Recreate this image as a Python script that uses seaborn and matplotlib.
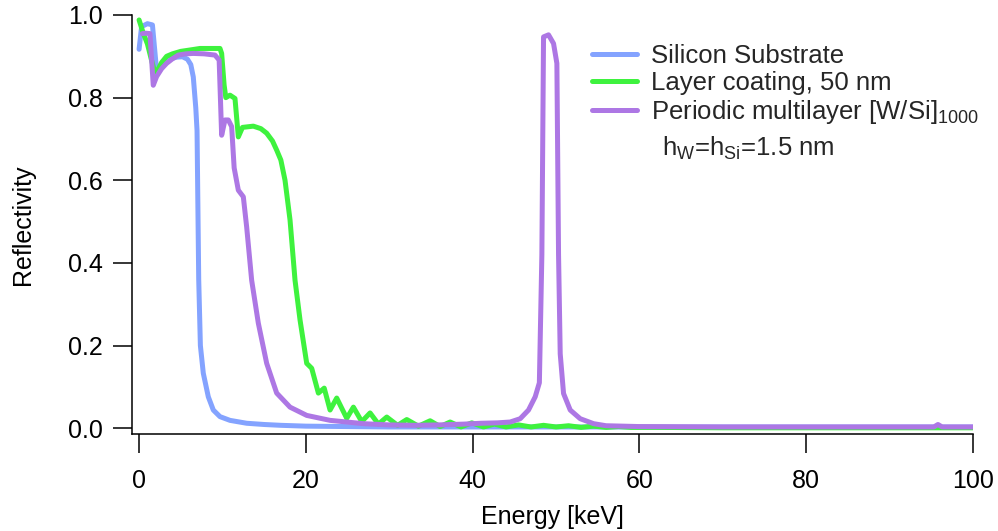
import matplotlib
matplotlib.use("Agg")
import matplotlib.pyplot as plt
import seaborn as sns

# ---------------- data ----------------
E_si = [0, 0.3, 1.0, 1.6, 2.1, 2.6, 3.2, 3.8, 4.5, 5.2, 5.8, 6.2, 6.5, 6.8, 6.95,
        7.15, 7.35, 7.7, 8.3, 8.9, 9.7, 10.9, 12.9, 15, 17, 20, 25, 30, 40, 50,
        60, 70, 80, 90, 100]
R_si = [0.917, 0.972, 0.979, 0.976, 0.866, 0.874, 0.885, 0.894, 0.898, 0.899,
        0.893, 0.880, 0.850, 0.775, 0.72, 0.36, 0.20, 0.133, 0.076, 0.044, 0.028,
        0.019, 0.012, 0.009, 0.007, 0.005, 0.004, 0.003, 0.003, 0.003, 0.003,
        0.003, 0.003, 0.003, 0.003]

E_layer = [0, 0.5, 1.0, 1.5, 1.9, 2.2, 2.7, 3.3, 4, 5, 6, 7.3, 8.5, 9.7, 9.9,
           10.2, 10.4, 10.9, 11.5, 11.9, 12.4, 13.7, 14.6, 15.3, 16.0, 16.5, 17.0,
           17.5, 18.1, 18.7, 19.3, 20.1, 20.7, 21.5, 22.2, 22.9, 23.7, 24.9, 25.7,
           26.7, 27.7, 28.7, 29.7, 31.0, 32.1, 33.5, 34.9, 36.1, 37.3, 38.6, 39.9,
           41.3, 42.6, 44, 45.5, 47, 48.5, 50, 51.5, 53, 54.5, 56, 57.5, 59, 62,
           70, 80, 90, 100]
R_layer = [0.988, 0.956, 0.93, 0.89, 0.86, 0.865, 0.885, 0.900, 0.906, 0.912,
           0.915, 0.919, 0.919, 0.919, 0.907, 0.83, 0.80, 0.806, 0.798, 0.705,
           0.728, 0.731, 0.725, 0.714, 0.695, 0.673, 0.649, 0.60, 0.504, 0.358,
           0.262, 0.157, 0.145, 0.085, 0.097, 0.044, 0.073, 0.024, 0.051, 0.016,
           0.037, 0.010, 0.027, 0.007, 0.021, 0.005, 0.018, 0.004, 0.015, 0.003,
           0.013, 0.003, 0.010, 0.003, 0.008, 0.003, 0.007, 0.003, 0.006, 0.002,
           0.005, 0.002, 0.004, 0.002, 0.002, 0.001, 0.001, 0.001, 0.001]

E_ml = [0.4, 0.8, 1.3, 1.7, 2.1, 2.7, 3.3, 4.0, 4.7, 5.6, 6.5, 7.8, 9.1, 9.6, 9.9,
        10.3, 10.7, 11.1, 11.4, 11.9, 12.5, 12.9, 13.5, 14.3, 15.3, 16.5, 18.1,
        20.1, 22.9, 26.9, 30, 33, 36, 39, 41, 43, 44.5, 45.7, 46.7, 47.5, 48.0,
        48.3, 48.5, 49.1, 49.7, 50.1, 50.3, 50.5, 50.9, 51.7, 52.9, 54.5, 56, 60,
        70, 80, 90, 95.3, 95.8, 96.3, 100]
R_ml = [0.955, 0.956, 0.955, 0.83, 0.851, 0.870, 0.883, 0.894, 0.903, 0.906,
        0.907, 0.906, 0.903, 0.891, 0.709, 0.746, 0.746, 0.73, 0.63, 0.576, 0.56,
        0.487, 0.358, 0.254, 0.157, 0.085, 0.051, 0.031, 0.019, 0.011, 0.008,
        0.007, 0.008, 0.010, 0.012, 0.013, 0.015, 0.023, 0.044, 0.076, 0.110,
        0.42, 0.947, 0.952, 0.931, 0.883, 0.42, 0.18, 0.084, 0.044, 0.023, 0.011,
        0.006, 0.004, 0.003, 0.003, 0.003, 0.003, 0.009, 0.003, 0.003]

labels = ["Silicon Substrate", "Layer coating, 50 nm",
          r"Periodic multilayer [W/Si]$_{1000}$"]
note = r"h$_{\mathrm{W}}$=h$_{\mathrm{Si}}$=1.5 nm"
colors = ["#84A3FF", "#3EF23E", "#AD77E4"]
xticks = [0, 20, 40, 60, 80, 100]
yticks = [0.0, 0.2, 0.4, 0.6, 0.8, 1.0]

# ---------------- style ----------------
sns.set_style("ticks")
plt.rcParams["font.family"] = ["Liberation Sans", "DejaVu Sans"]
plt.rcParams["mathtext.fontset"] = "custom"
plt.rcParams["mathtext.rm"] = "Liberation Sans"
plt.rcParams["mathtext.it"] = "Liberation Sans:italic"
plt.rcParams["mathtext.bf"] = "Liberation Sans:bold"

fig = plt.figure(figsize=(9.98, 5.31), dpi=100)
ax = fig.add_axes([132 / 998, 1 - 434 / 531, (973 - 132) / 998, (434 - 15) / 531])

LW = 3.6
for E, R, c, lab in zip([E_si, E_layer, E_ml], [R_si, R_layer, R_ml], colors, labels):
    sns.lineplot(x=E, y=R, ax=ax, color=c, linewidth=LW, label=lab,
                 estimator=None, sort=False, solid_joinstyle="round",
                 solid_capstyle="round")

ax.set_xlim(-0.85, 100)
ax.set_ylim(-0.014, 1.0)
ax.set_xticks(xticks)
ax.set_yticks(yticks)
ax.set_xticklabels([str(t) for t in xticks])
ax.set_yticklabels([f"{t:.1f}" for t in yticks])
sns.despine(ax=ax)
for s in ["left", "bottom"]:
    ax.spines[s].set_linewidth(1.1)
    ax.spines[s].set_color("black")
ax.tick_params(axis="both", length=14, width=1.1, color="black",
               labelsize=18, labelcolor="black")
ax.tick_params(axis="x", pad=11)
ax.tick_params(axis="y", pad=7)
ax.set_xlabel("Energy [keV]", fontsize=18, labelpad=8.5, color="black")
ax.set_ylabel("Reflectivity", fontsize=18, labelpad=24, color="black")

leg = ax.legend(loc="upper left", bbox_to_anchor=(592 / 998, 1 - 44 / 531),
                bbox_transform=fig.transFigure, frameon=False, fontsize=18.5,
                handlelength=1.75, handletextpad=0.55, labelspacing=0.12,
                borderpad=0, borderaxespad=0)
for line in leg.get_lines():
    line.set_linewidth(LW)
    line.set_solid_capstyle("round")

fig.text(662 / 998, 1 - 148 / 531, note, fontsize=18.5, va="center", ha="left")

fig.savefig("out.png", dpi=100)
